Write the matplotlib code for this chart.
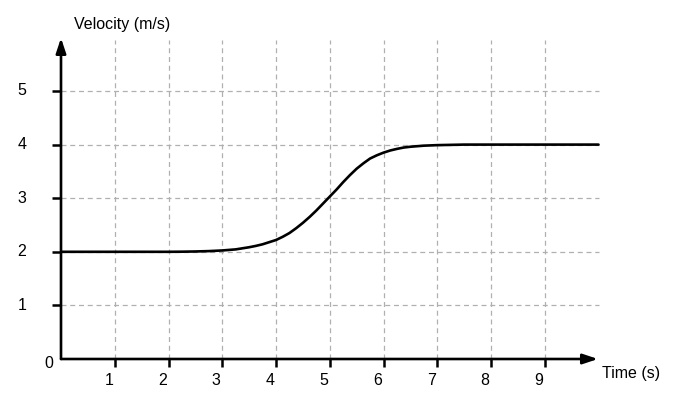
import matplotlib
matplotlib.use("Agg")
import matplotlib.pyplot as plt
from matplotlib.transforms import offset_copy

plt.rcParams['font.family'] = ['Liberation Sans', 'DejaVu Sans']

# Data
time_s = [0, 0.5, 1, 1.5, 2, 2.25, 2.5, 2.75, 3, 3.25, 3.5, 3.625, 3.75, 3.875, 4,
          4.125, 4.25, 4.375, 4.5, 4.625, 4.75, 4.875, 5, 5.125, 5.25, 5.375, 5.5,
          5.625, 5.75, 5.875, 6, 6.125, 6.25, 6.375, 6.5, 6.75, 7, 7.5, 8, 9, 10]
velocity = [2.0, 2.0, 2.0, 2.0, 2.0, 2.002, 2.006, 2.013, 2.025, 2.045, 2.085, 2.11,
            2.14, 2.18, 2.22, 2.28, 2.35, 2.44, 2.54, 2.65, 2.77, 2.9, 3.03, 3.16,
            3.3, 3.43, 3.55, 3.65, 3.74, 3.8, 3.85, 3.89, 3.92, 3.945, 3.96, 3.98,
            3.99, 4.0, 4.0, 4.0, 4.0]
x_ticks = [1, 2, 3, 4, 5, 6, 7, 8, 9]
y_ticks = [1, 2, 3, 4, 5]
x_label = "Time (s)"
y_label = "Velocity (m/s)"

W, H = 680, 411
fig = plt.figure(figsize=(W / 100, H / 100), dpi=100)
ux, uy = 53.75, 53.6
x0, y0 = 61, 359
xmax, ymax = 10.3, (y0 - 30) / uy
ax = fig.add_axes([x0 / W, (H - y0) / H, xmax * ux / W, ymax * uy / H])
ax.set_xlim(0, xmax)
ax.set_ylim(0, ymax)
ax.axis('off')

grid_kw = dict(color='#b0b0b0', lw=0.9, ls=(0, (4, 3)), zorder=1)
top = (y0 - 40) / uy
for t in x_ticks:
    ax.plot([t, t], [0, top], **grid_kw)
for t in y_ticks:
    ax.plot([0, 10], [t, t], **grid_kw)

# axes arrows
ax.annotate('', xy=(9.99, 0), xytext=(0, 0),
            arrowprops=dict(arrowstyle='-|>,head_length=0.9,head_width=0.3', lw=1.9, color='black',
                            shrinkA=0, shrinkB=0), annotation_clip=False, zorder=3)
ax.annotate('', xy=(0, (y0 - 38) / uy), xytext=(0, 0),
            arrowprops=dict(arrowstyle='-|>,head_length=0.9,head_width=0.3', lw=1.9, color='black',
                            shrinkA=0, shrinkB=0), annotation_clip=False, zorder=3)

# tick marks
for t in x_ticks:
    ax.plot([t, t], [0, -8 / uy], color='black', lw=1.8, clip_on=False, solid_capstyle='butt')
for t in y_ticks:
    ax.plot([0, -9 / ux], [t, t], color='black', lw=1.8, clip_on=False, solid_capstyle='butt')

fs = 11.5
tx = offset_copy(ax.transData, fig=fig, x=-6, y=-21, units='dots')
for t in x_ticks:
    ax.text(t, 0, str(t), transform=tx, ha='center', va='center', fontsize=fs)
for t in y_ticks:
    ax.text((22 - x0) / ux, t, str(t), ha='center', va='center', fontsize=fs, clip_on=False)
ax.text((49 - x0) / ux, -(363 - y0) / uy, '0', ha='center', va='center', fontsize=fs)

ax.text((602 - x0) / ux, -(373 - y0) / uy, x_label, ha='left', va='center', fontsize=fs)
ax.text((74 - x0) / ux, (y0 - 25) / uy, y_label, ha='left', va='center', fontsize=fs)

ax.plot(time_s, velocity, color='black', lw=1.9, zorder=4,
        solid_capstyle='round', solid_joinstyle='round')

fig.savefig('out.png', dpi=100)
